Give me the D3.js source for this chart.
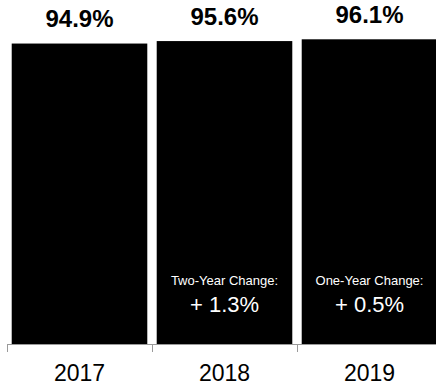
<!DOCTYPE html>
<html>
<head>
<meta charset="utf-8">
<script src="https://cdn.jsdelivr.net/npm/d3@7/dist/d3.min.js"></script>
<style>
  html, body { margin: 0; padding: 0; background: #fff; }
  svg { display: block; }
  text { font-family: "Liberation Sans", Arial, Helvetica, sans-serif; }
</style>
</head>
<body>
<svg id="chart" width="436" height="388"></svg>
<script>
// Share of respondents per year
const years = ["2017", "2018", "2019"];
const values = [94.9, 95.6, 96.1];
const valueLabels = ["94.9%", "95.6%", "96.1%"];
// Change annotations shown inside the later bars
const changeTitles = ["", "Two-Year Change:", "One-Year Change:"];
const changeValues = ["", "+ 1.3%", "+ 0.5%"];

const svg = d3.select("#chart");
const baseY = 344;

const x = d3.scaleBand()
  .domain(years)
  .range([7, 442])
  .paddingInner(0.065)
  .paddingOuter(0.0325);

const y = d3.scaleLinear()
  .domain([10, 100])
  .range([baseY, 25.5]);

const data = years.map((yr, i) => ({
  year: yr, value: values[i], label: valueLabels[i],
  title: changeTitles[i], change: changeValues[i]
}));

// Bars
svg.selectAll("rect.bar")
  .data(data)
  .join("rect")
  .attr("class", "bar")
  .attr("x", d => x(d.year))
  .attr("width", x.bandwidth())
  .attr("y", d => y(d.value))
  .attr("height", d => baseY - y(d.value))
  .attr("fill", "#000");

// Value labels above bars
svg.selectAll("text.value")
  .data(data)
  .join("text")
  .attr("class", "value")
  .attr("x", d => x(d.year) + x.bandwidth() / 2)
  .attr("y", d => y(d.value) - 16.5)
  .attr("text-anchor", "middle")
  .attr("font-size", 24)
  .attr("font-weight", "bold")
  .attr("fill", "#000")
  .text(d => d.label);

// Change annotations inside bars
const withChange = data.filter(d => d.title);
svg.selectAll("text.ctitle")
  .data(withChange)
  .join("text")
  .attr("class", "ctitle")
  .attr("x", d => x(d.year) + x.bandwidth() / 2)
  .attr("y", baseY - 59)
  .attr("text-anchor", "middle")
  .attr("font-size", 13)
  .attr("fill", "#fff")
  .text(d => d.title);

svg.selectAll("text.cval")
  .data(withChange)
  .join("text")
  .attr("class", "cval")
  .attr("x", d => x(d.year) + x.bandwidth() / 2)
  .attr("y", baseY - 32)
  .attr("text-anchor", "middle")
  .attr("font-size", 22)
  .attr("fill", "#fff")
  .text(d => d.change);

// Axis: baseline with ticks at band boundaries
const axisColor = "#9a9a9a";
const halfGap = x.step() * x.paddingInner() / 2;
svg.append("line")
  .attr("x1", x(years[0]) - halfGap)
  .attr("x2", 436)
  .attr("y1", baseY + 0.5)
  .attr("y2", baseY + 0.5)
  .attr("stroke", axisColor)
  .attr("stroke-width", 1);

svg.selectAll("line.tick")
  .data(years)
  .join("line")
  .attr("class", "tick")
  .attr("x1", d => Math.round(x(d) - halfGap) + 0.5)
  .attr("x2", d => Math.round(x(d) - halfGap) + 0.5)
  .attr("y1", baseY)
  .attr("y2", baseY + 8)
  .attr("stroke", axisColor)
  .attr("stroke-width", 1);

svg.selectAll("text.year")
  .data(years)
  .join("text")
  .attr("class", "year")
  .attr("x", d => x(d) + x.bandwidth() / 2)
  .attr("y", 381)
  .attr("text-anchor", "middle")
  .attr("font-size", 23)
  .attr("fill", "#000")
  .text(d => d);
</script>
</body>
</html>
